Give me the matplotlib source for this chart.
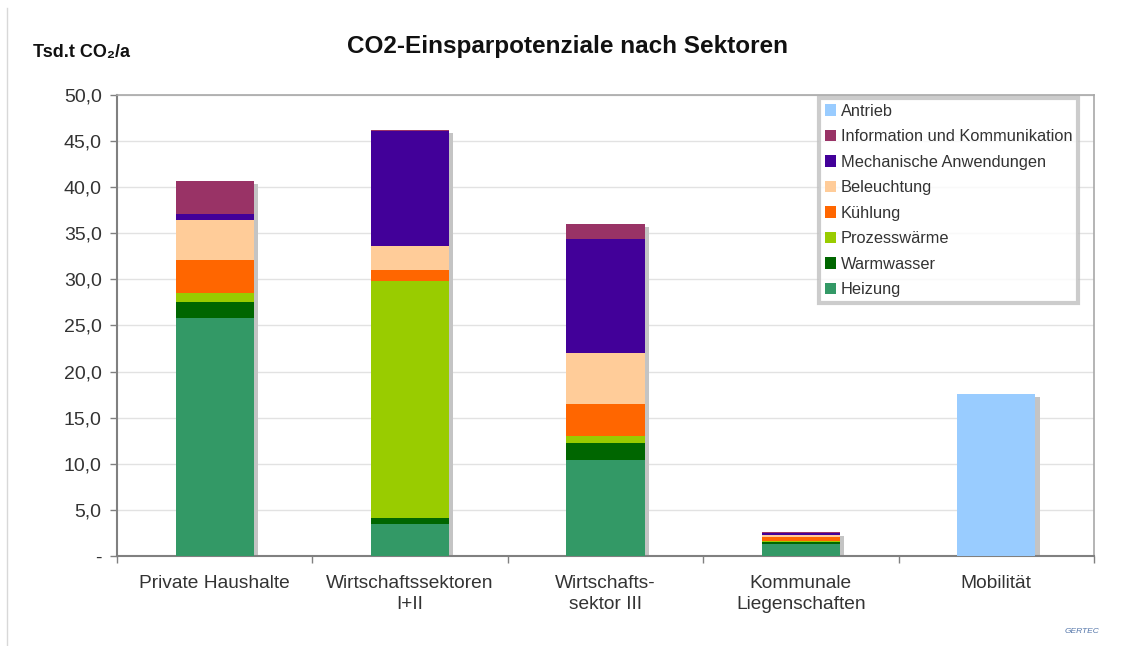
import matplotlib
matplotlib.use("Agg")
import matplotlib.pyplot as plt
from matplotlib.lines import Line2D
import numpy as np

plt.rcParams['font.family'] = ['Liberation Sans', 'DejaVu Sans']

categories = ["Private Haushalte", "Wirtschaftssektoren\nI+II", "Wirtschafts-\nsektor III",
              "Kommunale\nLiegenschaften", "Mobilität"]

# series from bottom to top
series_names = ["Heizung", "Warmwasser", "Prozesswärme", "Kühlung", "Beleuchtung",
                "Mechanische Anwendungen", "Information und Kommunikation", "Antrieb"]
heizung       = [25.8, 3.5, 10.4, 1.30, 0.0]
warmwasser    = [1.75, 0.6, 1.85, 0.25, 0.0]
prozesswaerme = [0.95, 25.7, 0.75, 0.10, 0.0]
kuehlung      = [3.6, 1.2, 3.5, 0.40, 0.0]
beleuchtung   = [4.35, 2.6, 5.5, 0.25, 0.0]
mechanisch    = [0.65, 12.5, 12.4, 0.20, 0.0]
info_komm     = [3.6, 0.15, 1.6, 0.05, 0.0]
antrieb       = [0.0, 0.0, 0.0, 0.0, 17.6]

series_values = [heizung, warmwasser, prozesswaerme, kuehlung, beleuchtung,
                 mechanisch, info_komm, antrieb]
colors = ["#339966", "#006600", "#99cc00", "#ff6600", "#ffcc99",
          "#420099", "#993366", "#99ccff"]

yticks = [0, 5, 10, 15, 20, 25, 30, 35, 40, 45, 50]
ytick_labels = ["-", "5,0", "10,0", "15,0", "20,0", "25,0", "30,0", "35,0", "40,0", "45,0", "50,0"]

fig = plt.figure(figsize=(11.24, 6.46), dpi=100)
ax = fig.add_axes([0.1041, 0.1393, 0.8692, 0.7137])

x = np.arange(len(categories))
width = 0.4
totals = np.sum(np.array(series_values), axis=0)

# shadows
ax.bar(x + 0.022, totals - 0.35, width, bottom=0, color="#c4c4c4", zorder=2, linewidth=0)

bottom = np.zeros(len(categories))
handles = []
for name, vals, col in zip(series_names, series_values, colors):
    vals = np.array(vals)
    h = ax.bar(x, vals, width, bottom=bottom, color=col, label=name, zorder=3, linewidth=0)
    handles.append(h)
    bottom += vals

ax.set_xlim(-0.5, len(categories) - 0.5)
ax.set_ylim(0, 50)
ax.set_yticks(yticks)
ax.set_yticklabels(ytick_labels)
ax.set_xticks(x)
ax.set_xticklabels(categories, fontsize=13.8, color="#333333", linespacing=1.3)
ax.set_xticks(np.arange(-0.5, len(categories), 1.0), minor=True)
ax.tick_params(axis='x', which='major', length=0, pad=14)
ax.tick_params(axis='x', which='minor', length=5, color="#808080", width=1, direction='out')
ax.tick_params(axis='y', length=5, color="#808080", width=1, labelsize=14, labelcolor="#333333", pad=6)

ax.grid(axis='y', color="#e2e2e2", linewidth=1, zorder=0)
ax.set_axisbelow(True)
for side in ["left", "bottom"]:
    ax.spines[side].set_color("#808080")
    ax.spines[side].set_linewidth(1.5)
for side in ["top", "right"]:
    ax.spines[side].set_color("#a8a8a8")
    ax.spines[side].set_linewidth(1.2)

leg_handles = handles[::-1]
leg_labels = series_names[::-1]
leg = ax.legend(leg_handles, leg_labels, loc='upper right', bbox_to_anchor=(0.9835, 0.9935),
                fontsize=11.8, frameon=True, fancybox=False, handlelength=0.7, handleheight=0.7,
                handletextpad=0.25, labelspacing=0.64, borderpad=0.35, borderaxespad=0.0)
leg.get_frame().set_edgecolor("#c0c0c0")
leg.get_frame().set_linewidth(3)
for t in leg.get_texts():
    t.set_color("#333333")

fig.text(0.5045, 0.928, "CO2-Einsparpotenziale nach Sektoren", ha='center', va='center',
         fontsize=17.5, fontweight='bold', color="#111111")
fig.text(0.029, 0.918, "Tsd.t CO₂/a", ha='left', va='center', fontsize=13,
         fontweight='bold', color="#111111", family=['Liberation Sans', 'DejaVu Sans'])
fig.text(0.963, 0.022, "GERTEC", ha='center', va='center', fontsize=6,
         color="#5577aa", fontstyle='italic')

# faint slide frame on the left
fig.add_artist(Line2D([7 / 1124, 7 / 1124], [0, 1 - 8 / 646], transform=fig.transFigure,
                      color="#d8d8d8", linewidth=1))

fig.savefig("out.png", dpi=100, facecolor="white")
